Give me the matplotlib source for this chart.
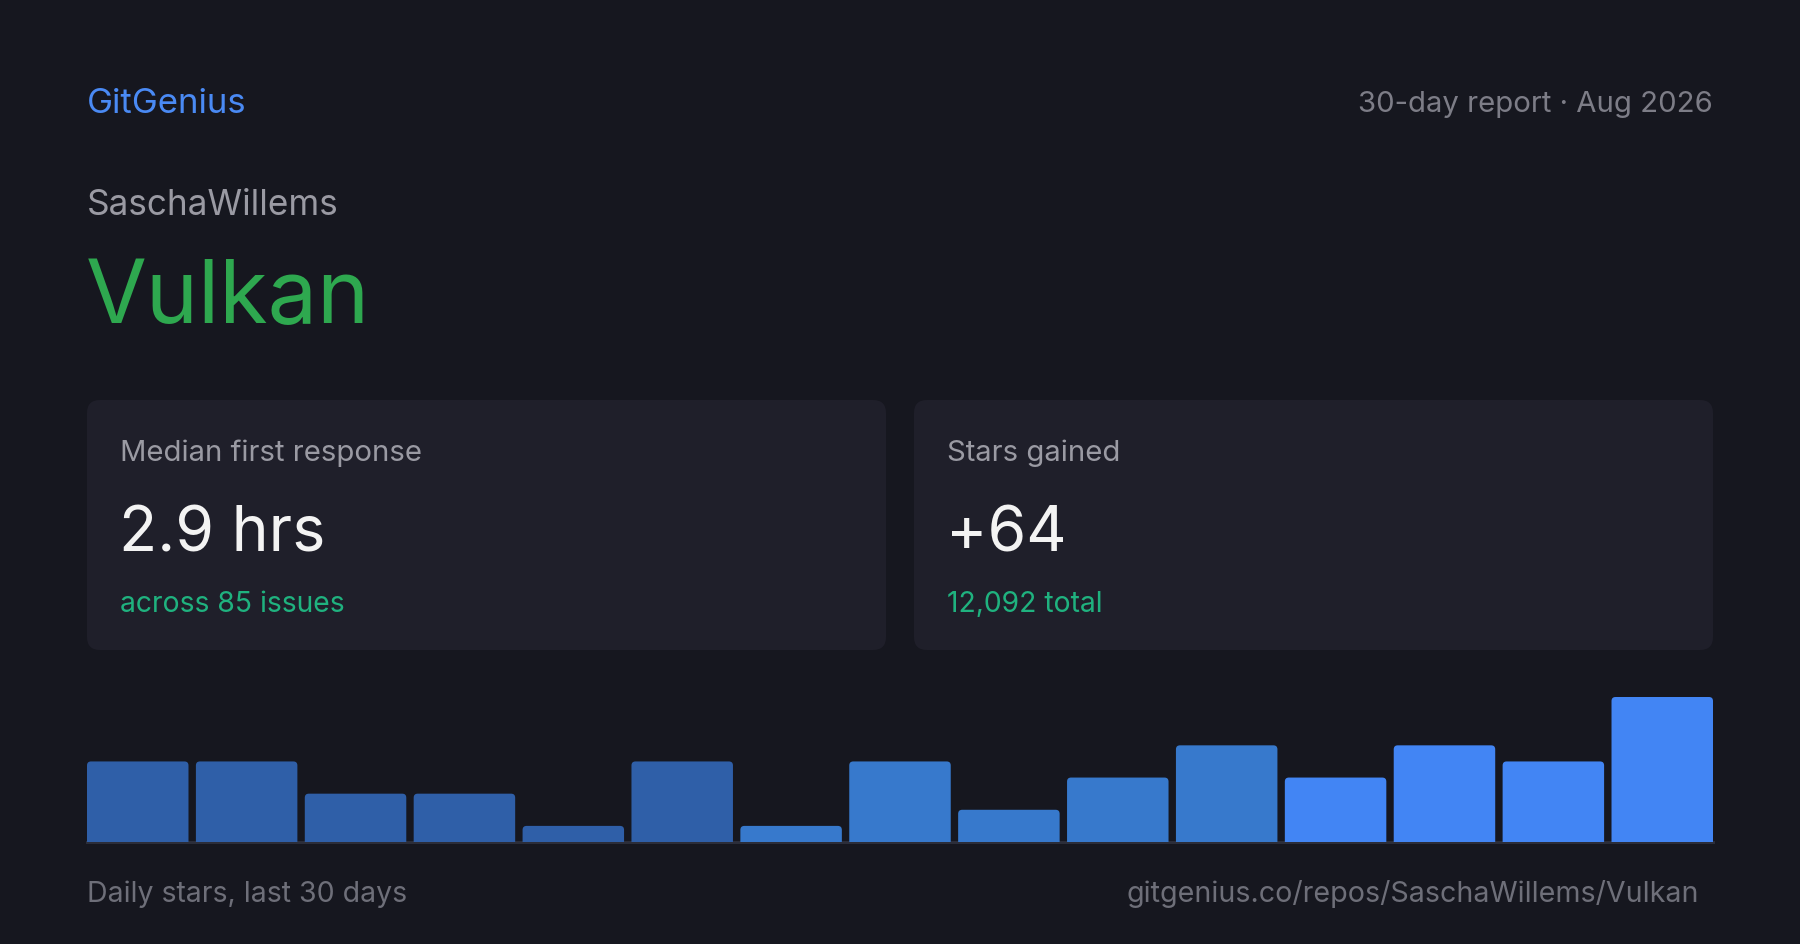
import matplotlib
matplotlib.use("Agg")
import matplotlib.pyplot as plt
from matplotlib.patches import FancyBboxPatch
import numpy as np

# data
brand = "GitGenius"
report_label = "30-day report \u00b7 Aug 2026"
owner = "SaschaWillems"
repo = "Vulkan"
card_labels = ["Median first response", "Stars gained"]
card_values = ["2.9 hrs", "+64"]
card_notes = ["across 85 issues", "12,092 total"]
daily_stars = [5, 5, 3, 3, 1, 5, 1, 5, 2, 4, 6, 4, 6, 5, 9]
footer_left = "Daily stars, last 30 days"
footer_right = "gitgenius.co/repos/SaschaWillems/Vulkan"

BG = "#16171f"
CARD = "#1f1f2a"
W, H = 1800, 945

plt.rcParams['font.family'] = ['Inter', 'DejaVu Sans']

fig = plt.figure(figsize=(W / 100, H / 100), dpi=100, facecolor=BG)

# full-size canvas in pixel units (y down)
bg = fig.add_axes([0, 0, 1, 1])
bg.set_xlim(0, W)
bg.set_ylim(H, 0)
bg.axis("off")
bg.set_facecolor(BG)

bg.text(87, 113, brand, color="#4a8af4", fontsize=25, va="baseline", ha="left")
bg.text(1713, 112, report_label, color="#7d7d87", fontsize=21.1, va="baseline", ha="right")
bg.text(87, 215, owner, color="#9a9aa3", fontsize=25.3, va="baseline", ha="left")
bg.text(86, 323, repo, color="#2ea84f", fontsize=63.5, va="baseline", ha="left")

card_x = [87, 914]
card_w = 799
for i in range(2):
    x0 = card_x[i]
    bg.add_patch(FancyBboxPatch((x0, 401), card_w, 250,
                                boxstyle="round,pad=0,rounding_size=13",
                                facecolor=CARD, edgecolor="none"))
    bg.text(x0 + 33, 461, card_labels[i], color="#9a9aa3", fontsize=21.1,
            va="baseline", ha="left")
    bg.text(x0 + 32, 552, card_values[i], color="#f3f3f3", fontsize=45,
            va="baseline", ha="left")
    bg.text(x0 + 33, 612, card_notes[i], color="#1fb27f", fontsize=20.4,
            va="baseline", ha="left")

bg.text(87, 902, footer_left, color="#6e6f79", fontsize=20.5, va="baseline", ha="left")
bg.text(1699, 902, footer_right, color="#6e6f79", fontsize=20.6, va="baseline", ha="right")

# bar chart
n = len(daily_stars)
bw = 0.932
left, right, base, top = 87, 1713, 843, 698
ax = fig.add_axes([left / W, (H - base) / H, (right - left) / W, (base - top) / H])
ax.set_facecolor("none")
ax.set_xlim(-bw / 2, n - 1 + bw / 2)
ax.set_ylim(0, max(daily_stars))
ax.axis("off")

colors = ["#2f5fa8"] * 6 + ["#3779cc"] * 5 + ["#4285f4"] * (n - 11)
bars = ax.bar(np.arange(n), daily_stars, width=bw, color=colors, linewidth=0)

# swap plain rectangles for ones with rounded tops (bottom clipped by axes)
px_x = (right - left) / (n - 1 + bw)
px_y = (base - top) / max(daily_stars)
for rect, c in zip(bars, colors):
    x, h, w = rect.get_x(), rect.get_height(), rect.get_width()
    rect.set_visible(False)
    ax.add_patch(FancyBboxPatch((x, -1), w, h + 1,
                                boxstyle="round,pad=0,rounding_size=%f" % (4 / px_x),
                                mutation_aspect=px_x / px_y,
                                facecolor=c, edgecolor="none"))

ax.axhline(0, color="#2b2d39", linewidth=2.2, clip_on=False, zorder=0)

fig.savefig("out.png", dpi=100, facecolor=BG)
